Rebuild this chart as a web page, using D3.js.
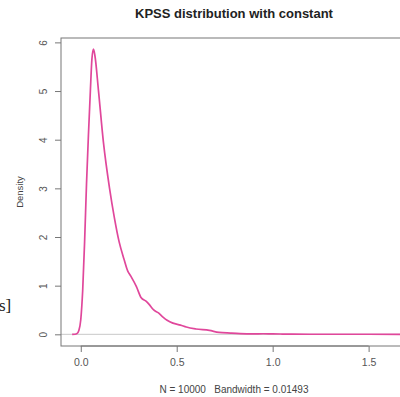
<!DOCTYPE html>
<html>
<head>
<meta charset="utf-8">
<script src="https://cdn.jsdelivr.net/npm/d3@7"></script>
<style>
  body { margin: 0; background: #fff; }
  svg { display: block; font-family: 'Liberation Sans', Arial, sans-serif; }
</style>
</head>
<body>
<script>
// density estimate
const densityX = [-0.045, -0.03, -0.02, -0.01, 0, 0.01, 0.02, 0.03, 0.04, 0.05, 0.058, 0.066, 0.074, 0.092, 0.118, 0.15, 0.175, 0.2, 0.225, 0.245, 0.26, 0.29, 0.315, 0.34, 0.355, 0.38, 0.405, 0.43, 0.45, 0.48, 0.52, 0.55, 0.6, 0.67, 0.72, 0.78, 0.83, 0.9, 0.95, 1.0, 1.05, 1.1, 1.3, 1.5, 1.72];
const densityY = [0, 0.002, 0.015, 0.08, 0.3, 0.9, 1.9, 3.1, 4.1, 5.0, 5.65, 5.86, 5.72, 5.02, 3.95, 3.0, 2.4, 1.9, 1.55, 1.3, 1.2, 0.98, 0.75, 0.68, 0.62, 0.5, 0.44, 0.35, 0.29, 0.23, 0.19, 0.15, 0.11, 0.08, 0.04, 0.025, 0.015, 0.01, 0.012, 0.008, 0.006, 0.003, 0.001, 0.001, 0];
const xTicks = [0, 0.5, 1, 1.5];
const yTicks = [0, 1, 2, 3, 4, 5, 6];

const title = 'KPSS distribution with constant';
const subtitle = 'N = 10000   Bandwidth = 0.01493';

const width = 400;
const height = 397;
const pLeft = 61, pTop = 38, pRight = 407, pBottom = 346;

const x = d3.scaleLinear().domain([-0.103, 1.70]).range([pLeft, pRight]);
const y = d3.scaleLinear().domain([-0.24, 6.09]).range([pBottom, pTop]);

const svg = d3.select('body').append('svg')
  .attr('width', width)
  .attr('height', height);

// zero line
svg.append('line')
  .attr('x1', pLeft).attr('x2', pRight)
  .attr('y1', y(0)).attr('y2', y(0))
  .attr('stroke', '#c8c8c8').attr('stroke-width', 1);

const pts = densityX.map((d, i) => [d, densityY[i]]);
svg.append('path')
  .datum(pts)
  .attr('fill', 'none')
  .attr('stroke', '#e0479b')
  .attr('stroke-width', 1.7)
  .attr('d', d3.line().x(d => x(d[0])).y(d => y(d[1])).curve(d3.curveMonotoneX));

// box
svg.append('rect')
  .attr('x', pLeft).attr('y', pTop)
  .attr('width', pRight - pLeft).attr('height', pBottom - pTop)
  .attr('fill', 'none').attr('stroke', '#777').attr('stroke-width', 1);

// x axis
const xAxis = d3.axisBottom(x).tickValues(xTicks).tickFormat(d3.format('.1f')).tickSize(6).tickPadding(7);
const gx = svg.append('g').attr('transform', 'translate(0,' + pBottom + ')').call(xAxis);
gx.select('.domain').attr('d', 'M' + x(0) + ',0H' + x(1.5)).attr('stroke', '#777');
gx.selectAll('.tick line').attr('stroke', '#777');
gx.selectAll('text').attr('fill', '#555').style('font-size', '10.5px');

// y axis
const yAxis = d3.axisLeft(y).tickValues(yTicks).tickFormat(d3.format('d')).tickSize(6).tickPadding(4);
const gy = svg.append('g').attr('transform', 'translate(' + pLeft + ',0)').call(yAxis);
gy.select('.domain').remove();
gy.selectAll('.tick line').attr('stroke', '#777');
gy.selectAll('text')
  .attr('fill', '#555').style('font-size', '10px')
  .attr('x', null).attr('dy', null)
  .attr('text-anchor', 'middle')
  .attr('transform', 'translate(-14,0) rotate(-90)')
  .attr('y', 0);

svg.append('text')
  .attr('x', (pLeft + pRight) / 2).attr('y', 18)
  .attr('text-anchor', 'middle')
  .style('font-size', '13px').style('font-weight', 'bold')
  .attr('fill', '#222')
  .text(title);

svg.append('text')
  .attr('x', 234).attr('y', 393)
  .attr('text-anchor', 'middle')
  .style('font-size', '10px')
  .style('white-space', 'pre')
  .attr('fill', '#444')
  .text(subtitle);

svg.append('text')
  .attr('transform', 'translate(23,' + ((pTop + pBottom) / 2) + ') rotate(-90)')
  .attr('text-anchor', 'middle')
  .style('font-size', '9.5px')
  .attr('fill', '#444')
  .text('Density');

// stray fragment at left edge of the screenshot
svg.append('text')
  .attr('x', -1).attr('y', 311)
  .style('font-family', "'Liberation Serif', serif")
  .style('font-size', '17px')
  .attr('fill', '#222')
  .text('s]');
</script>
</body>
</html>
